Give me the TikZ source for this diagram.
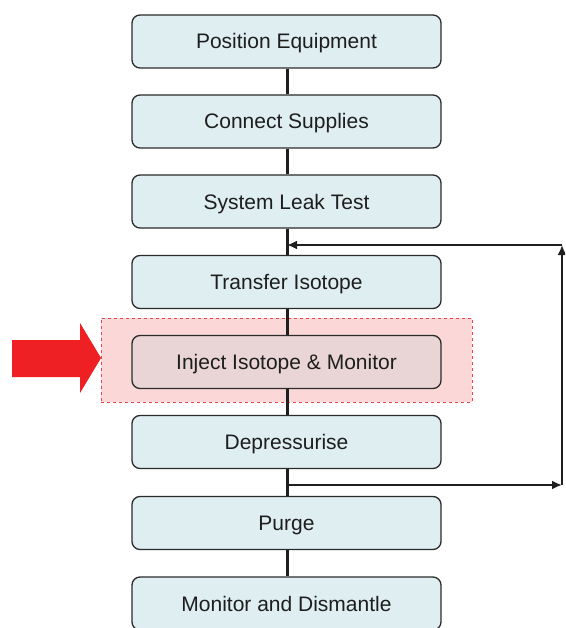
\documentclass[tikz,border=0pt]{standalone}
\usepackage{fontspec}
\setmainfont{Liberation Sans}
\usetikzlibrary{arrows.meta}
\definecolor{boxfill}{HTML}{DFEEF1}
\definecolor{boxline}{HTML}{2B2B2B}
\definecolor{activefill}{HTML}{E9D5D5}
\definecolor{hlfill}{HTML}{FBD7D7}
\definecolor{hlline}{HTML}{E8474F}
\definecolor{pointer}{HTML}{EE2024}
\definecolor{txt}{HTML}{1E1E1E}
\begin{document}
\begin{tikzpicture}[x=1pt,y=-1pt,
  stepbox/.style={draw=boxline, line width=1.3pt, fill=boxfill, rounded corners=8pt,
    minimum width=309pt, minimum height=53pt, inner sep=0pt, text=txt,
    font=\fontsize{21}{25}\selectfont, text depth=0pt, text height=15pt},
  spine/.style={draw=black!88, line width=3pt},
  loop/.style={draw=black!88, line width=2pt, -{Latex[length=10pt,width=9pt]}}]
\useasboundingbox (0,0) rectangle (565,628);
\clip (0,0) rectangle (565,628);

% highlighted stage
\node[draw=hlline, dashed, line width=1pt, fill=hlfill, minimum width=371pt,
  minimum height=84pt, inner sep=0pt] (hl) at (286.5,360) {};

% process steps
\node[stepbox] (s1) at (286.5,41.5) {Position Equipment};
\node[stepbox] (s2) at (286.5,121.5) {Connect Supplies};
\node[stepbox] (s3) at (286.5,201.5) {System Leak Test};
\node[stepbox] (s4) at (286.5,282) {Transfer Isotope};
\node[stepbox, fill=activefill] (s5) at (286.5,362) {Inject Isotope \& Monitor};
\node[stepbox] (s6) at (286.5,442) {Depressurise};
\node[stepbox] (s7) at (286.5,523) {Purge};
\node[stepbox] (s8) at (286.5,603.5) {Monitor and Dismantle};

% vertical spine
\foreach \a/\b in {s1/s2,s2/s3,s3/s4,s4/s5,s5/s6,s6/s7,s7/s8}
  \draw[spine] (\a.south -| 287,0) -- (\b.north -| 287,0);

% repeat loop
\coordinate (lb) at (287,485);
\coordinate (rb) at (562,485);
\coordinate (rt) at (562,245);
\coordinate (lt) at (287,245);
\draw[loop] (lb) -- (rb);
\draw[loop] (rb) -- (rt);
\draw[loop] (rt) -- (lt);

% pointer arrow
\fill[pointer] (12,340) -- (80,340) -- (80,323) -- (101,358) -- (80,393) -- (80,377) -- (12,377) -- cycle;
\end{tikzpicture}
\end{document}
